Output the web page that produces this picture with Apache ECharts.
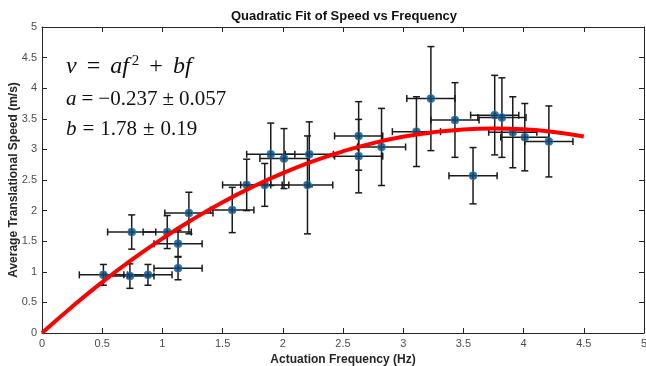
<!DOCTYPE html>
<html>
<head>
<meta charset="utf-8">
<script src="https://cdn.jsdelivr.net/npm/echarts@6/dist/echarts.min.js"></script>
<style>html,body{margin:0;padding:0;background:#fff}#c{width:646px;height:366px}</style>
</head>
<body>
<div id="c"></div>
<script>
const freq     = [0.51, 0.73, 0.88, 1.13, 1.13, 0.745, 1.04, 1.22, 1.58, 1.70, 1.85, 2.205, 1.90, 2.01, 2.22, 2.63, 2.63, 2.82, 3.11, 3.23, 3.43, 3.58, 3.76, 3.82, 3.91, 4.01, 4.21];
const speed    = [0.95, 0.93, 0.95, 1.06, 1.46, 1.65, 1.65, 1.96, 2.01, 2.42, 2.42, 2.42, 2.92, 2.85, 2.92, 3.22, 2.89, 3.04, 3.29, 3.83, 3.48, 2.57, 3.56, 3.52, 3.28, 3.20, 3.13];
const freqErr  = [0.2, 0.2, 0.2, 0.2, 0.2, 0.2, 0.2, 0.2, 0.18, 0.2, 0.2, 0.21, 0.2, 0.2, 0.2, 0.2, 0.2, 0.2, 0.2, 0.2, 0.2, 0.2, 0.2, 0.2, 0.2, 0.2, 0.2];
const speedErr = [0.17, 0.20, 0.17, 0.19, 0.22, 0.28, 0.27, 0.34, 0.37, 0.42, 0.35, 0.80, 0.51, 0.49, 0.53, 0.56, 0.60, 0.63, 0.57, 0.85, 0.61, 0.46, 0.65, 0.65, 0.58, 0.55, 0.58];
// Fit curve samples (v = a f^2 + b f, a = -0.237, b = 1.78)
const fitFreq  = [0, 0.25, 0.5, 0.75, 1, 1.25, 1.5, 1.75, 2, 2.25, 2.5, 2.75, 3, 3.25, 3.5, 3.75, 4, 4.25, 4.5];
const fitSpeed = [0, 0.430, 0.831, 1.202, 1.543, 1.855, 2.137, 2.389, 2.612, 2.805, 2.969, 3.103, 3.207, 3.282, 3.327, 3.342, 3.328, 3.284, 3.211];
const xTicks = ['0','0.5','1','1.5','2','2.5','3','3.5','4','4.5','5'];
const yTicks = ['0','0.5','1','1.5','2','2.5','3','3.5','4','4.5','5'];

const pts = freq.map((f, i) => [f, speed[i], freqErr[i], speedErr[i]]);
const fit = fitFreq.map((f, i) => [f, fitSpeed[i]]);

const SANS = 'Liberation Sans, Arial, sans-serif';
const SERIF = 'Liberation Serif, DejaVu Serif, serif';
const axCol = '#262626';

const chart = echarts.init(document.getElementById('c'), null, {renderer: 'canvas'});
const xLab = v => { const s = String(+v.toFixed(1)); return xTicks.includes(s) ? s : ''; };
const yLab = v => { const s = String(+v.toFixed(1)); return yTicks.includes(s) ? s : ''; };

chart.setOption({
  animation: false,
  backgroundColor: '#fff',
  grid: {left: 42, right: 2, top: 27, bottom: 33, containLabel: false, outerBoundsMode: 'none'},
  xAxis: [
    {type: 'value', min: 0, max: 5, interval: 0.5, position: 'bottom',
     name: 'Actuation Frequency (Hz)', nameLocation: 'middle', nameGap: 21,
     nameTextStyle: {fontFamily: SANS, fontWeight: 'bold', fontSize: 12, color: axCol},
     axisLine: {show: true, onZero: false, lineStyle: {color: axCol, width: 1}},
     axisTick: {show: true, inside: true, length: 5, lineStyle: {color: axCol}},
     axisLabel: {fontFamily: SANS, fontSize: 11, color: '#4d4d4d', margin: 5, formatter: xLab, hideOverlap: false},
     splitLine: {show: false}},
    {type: 'value', min: 0, max: 5, interval: 0.5, position: 'top',
     axisLine: {show: true, onZero: false, lineStyle: {color: axCol, width: 1}},
     axisTick: {show: true, inside: true, length: 5, lineStyle: {color: axCol}},
     axisLabel: {show: false}, splitLine: {show: false}}
  ],
  yAxis: [
    {type: 'value', min: 0, max: 5, interval: 0.5, position: 'left',
     name: 'Average Translational Speed (m/s)', nameLocation: 'middle', nameGap: 22, nameMoveOverlap: false,
     nameTextStyle: {fontFamily: SANS, fontWeight: 'bold', fontSize: 12, color: axCol},
     axisLine: {show: true, onZero: false, lineStyle: {color: axCol, width: 1}},
     axisTick: {show: true, inside: true, length: 5, lineStyle: {color: axCol}},
     axisLabel: {fontFamily: SANS, fontSize: 11, color: '#4d4d4d', margin: 5, formatter: yLab},
     splitLine: {show: false}},
    {type: 'value', min: 0, max: 5, interval: 0.5, position: 'right',
     axisLine: {show: true, onZero: false, lineStyle: {color: axCol, width: 1}},
     axisTick: {show: true, inside: true, length: 5, lineStyle: {color: axCol}},
     axisLabel: {show: false}, splitLine: {show: false}}
  ],
  graphic: [
    {type: 'text', x: 344, y: 16,
     style: {text: 'Quadratic Fit of Speed vs Frequency', font: 'bold 13px ' + SANS, fill: '#111',
             align: 'center', verticalAlign: 'middle'}},
    {type: 'text', x: 66, y: 67, z: 100,
     style: {
       text: '{i|v}{n|=}{i|af}{s|2}{n|+}{i|bf}',
       verticalAlign: 'middle',
       rich: {
         i: {fontFamily: SERIF, fontStyle: 'italic', fontSize: 24, fill: '#111'},
         n: {fontFamily: SERIF, fontSize: 24, fill: '#111', padding: [0, 10, 0, 10]},
         s: {fontFamily: SERIF, fontSize: 15, fill: '#111', verticalAlign: 'top', padding: [0, 0, 12, 3]}
       }}},
    {type: 'text', x: 66, y: 99, z: 100,
     style: {
       text: '{i|a}{n|=}{m|−0.237}{n|±}{m|0.057}',
       verticalAlign: 'middle',
       rich: {
         i: {fontFamily: SERIF, fontStyle: 'italic', fontSize: 21, fill: '#111'},
         n: {fontFamily: SERIF, fontSize: 21, fill: '#111', padding: [0, 5, 0, 5]},
         m: {fontFamily: SERIF, fontSize: 21, fill: '#111'}
       }}},
    {type: 'text', x: 66, y: 129, z: 100,
     style: {
       text: '{i|b}{n|=}{m|1.78}{n|±}{m|0.19}',
       verticalAlign: 'middle',
       rich: {
         i: {fontFamily: SERIF, fontStyle: 'italic', fontSize: 21, fill: '#111'},
         n: {fontFamily: SERIF, fontSize: 21, fill: '#111', padding: [0, 6, 0, 6]},
         m: {fontFamily: SERIF, fontSize: 21, fill: '#111'}
       }}}
  ],
  series: [
    {type: 'custom', xAxisIndex: 0, yAxisIndex: 0, data: pts, z: 2,
     renderItem: function (params, api) {
       const x = api.value(0), y = api.value(1), ex = api.value(2), ey = api.value(3);
       const l = api.coord([x - ex, y]), r = api.coord([x + ex, y]);
       const t = api.coord([x, y + ey]), b = api.coord([x, y - ey]);
       const cap = 3.5;
       const st = {stroke: '#1a1a1a', lineWidth: 1.5};
       return {type: 'group', children: [
         {type: 'line', shape: {x1: l[0], y1: l[1], x2: r[0], y2: r[1]}, style: st},
         {type: 'line', shape: {x1: l[0], y1: l[1] - cap, x2: l[0], y2: l[1] + cap}, style: st},
         {type: 'line', shape: {x1: r[0], y1: r[1] - cap, x2: r[0], y2: r[1] + cap}, style: st},
         {type: 'line', shape: {x1: t[0], y1: t[1], x2: b[0], y2: b[1]}, style: st},
         {type: 'line', shape: {x1: t[0] - cap, y1: t[1], x2: t[0] + cap, y2: t[1]}, style: st},
         {type: 'line', shape: {x1: b[0] - cap, y1: b[1], x2: b[0] + cap, y2: b[1]}, style: st}
       ]};
     }},
    {type: 'scatter', xAxisIndex: 0, yAxisIndex: 0, data: pts.map(p => [p[0], p[1]]), z: 3,
     symbol: 'circle', symbolSize: 8,
     itemStyle: {color: '#0d4a78', borderColor: '#2a7fbf', borderWidth: 1}},
    {type: 'line', xAxisIndex: 0, yAxisIndex: 0, data: fit, z: 4, smooth: true,
     showSymbol: false, symbol: 'none',
     lineStyle: {color: '#ff0000', width: 4}}
  ]
});
</script>
</body>
</html>
